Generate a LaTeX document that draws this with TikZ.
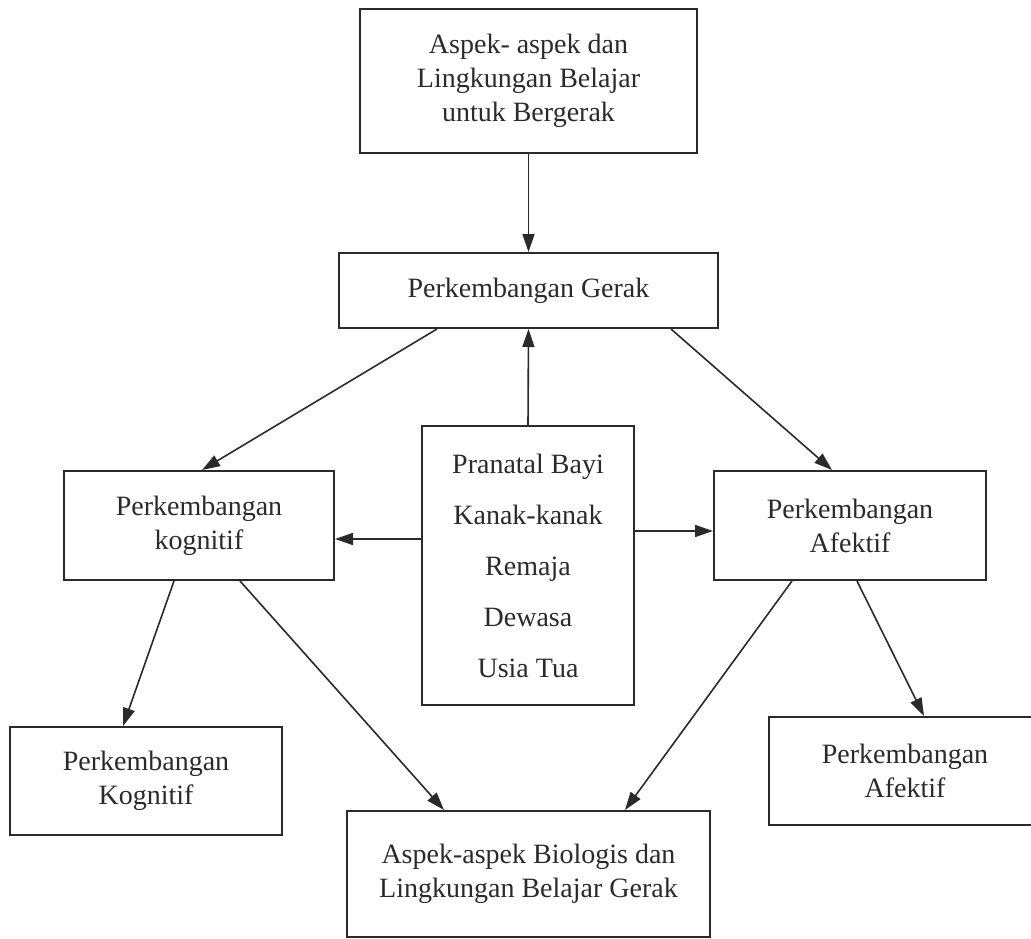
\documentclass[tikz,border=0pt]{standalone}
\usepackage{fontspec}
\setmainfont{Liberation Serif}
\usetikzlibrary{arrows.meta}
\definecolor{ink}{HTML}{2A2A2A}
\tikzset{
  box/.style={draw=ink, line width=2pt, rectangle, inner sep=0pt, align=center,
    text=ink, font=\fontsize{28}{34}\selectfont},
  arr/.style={draw=ink, line width=1.6pt, -{Triangle[length=18pt,width=12pt]}}
}
\begin{document}
\begin{tikzpicture}[x=1pt,y=-1pt]
\useasboundingbox (0,0) rectangle (1031,939);
\node[box, minimum width=337pt, minimum height=144pt] (T) at (528.5,81)
  {Aspek- aspek dan\\Lingkungan Belajar\\untuk Bergerak};
\node[box, minimum width=379pt, minimum height=75pt] (G) at (528.5,290.5)
  {Perkembangan Gerak};
\node[box, minimum width=212pt, minimum height=279pt, font=\fontsize{28}{51}\selectfont] (C) at (528,565.5)
  {Pranatal Bayi\\Kanak-kanak\\Remaja\\Dewasa\\Usia Tua};
\node[box, minimum width=270pt, minimum height=109pt] (L) at (199,525.5)
  {Perkembangan\\kognitif};
\node[box, minimum width=272pt, minimum height=109pt] (R) at (850,525.5)
  {Perkembangan\\Afektif};
\node[box, minimum width=272pt, minimum height=108pt] (BL) at (146,781)
  {Perkembangan\\Kognitif};
\node[box, minimum width=363pt, minimum height=126pt] (BC) at (528.5,874)
  {Aspek-aspek Biologis dan\\Lingkungan Belajar Gerak};
\node[box, minimum width=272pt, minimum height=108pt] (BR) at (905,771)
  {Perkembangan\\Afektif};

\draw[arr] (T.south) -- (G.north);
\draw[arr] (C.north) -- (G.south);
\draw[arr] ([xshift=-91.5pt]G.south) -- ([xshift=3pt]L.north);
\draw[arr] ([xshift=142.5pt]G.south) -- ([xshift=-18pt]R.north);
\draw[arr] ([yshift=26.5pt]C.west) -- ([yshift=-13.5pt]L.east);
\draw[arr] ([yshift=34.5pt]C.east) -- ([yshift=-5.5pt]R.west);
\draw[arr] ([xshift=-25pt]L.south) -- ([xshift=-23pt]BL.north);
\draw[arr] ([xshift=41pt]L.south) -- ([xshift=-84.5pt]BC.north);
\draw[arr] ([xshift=-58pt]R.south) -- ([xshift=96.5pt]BC.north);
\draw[arr] ([xshift=7pt]R.south) -- ([xshift=19pt]BR.north);
\end{tikzpicture}
\end{document}
